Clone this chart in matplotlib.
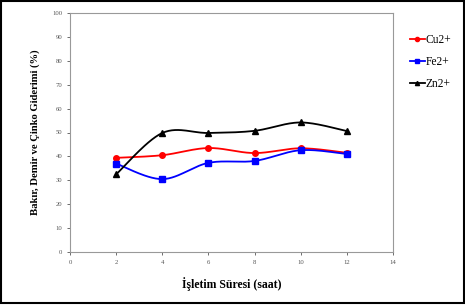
import numpy as np
import matplotlib.pyplot as plt
from matplotlib.patches import Rectangle

# Data
saat = [2, 4, 6, 8, 10, 12]
cu = [39.4, 40.5, 43.5, 41.4, 43.4, 41.5]
fe = [37.0, 30.5, 37.3, 38.1, 42.6, 41.0]
zn = [32.5, 49.8, 49.8, 50.7, 54.2, 50.6]


def smooth(x, y, n=30):
    # Catmull-Rom style smoothing, similar to spreadsheet "smoothed line"
    x = np.asarray(x, float)
    y = np.asarray(y, float)
    px = np.concatenate([[x[0]], x, [x[-1]]])
    py = np.concatenate([[y[0]], y, [y[-1]]])
    xs, ys = [], []
    for i in range(1, len(px) - 2):
        p0 = np.array([px[i - 1], py[i - 1]])
        p1 = np.array([px[i], py[i]])
        p2 = np.array([px[i + 1], py[i + 1]])
        p3 = np.array([px[i + 2], py[i + 2]])
        c1 = p1 + (p2 - p0) / 6
        c2 = p2 - (p3 - p1) / 6
        t = np.linspace(0, 1, n)[:, None]
        b = ((1 - t) ** 3) * p1 + 3 * ((1 - t) ** 2) * t * c1 + 3 * (1 - t) * t ** 2 * c2 + t ** 3 * p2
        xs.extend(b[:, 0])
        ys.extend(b[:, 1])
    return xs, ys


plt.rcParams['font.family'] = 'Liberation Serif'

fig = plt.figure(figsize=(4.65, 3.05), dpi=100)
ax = fig.add_axes([70 / 465, 53 / 305, 323 / 465, 239 / 305])

series = [("Cu2+", cu, "red", "o"), ("Fe2+", fe, "blue", "s"), ("Zn2+", zn, "black", "^")]
for name, vals, col, mk in series:
    sx, sy = smooth(saat, vals)
    ax.plot(sx, sy, color=col, lw=1.3)
    ax.plot(saat, vals, linestyle="none", marker=mk, color=col, ms=4)
    ax.plot([], [], color=col, marker=mk, ms=3, lw=1.3, label=name)

ax.set_xlim(0, 14)
ax.set_ylim(0, 100)
ax.set_xticks(range(0, 15, 2))
ax.set_yticks(range(0, 101, 10))
ax.tick_params(labelsize=4.8, colors="#555555", length=2, width=0.6)
for s in ax.spines.values():
    s.set_color("#999999")
    s.set_linewidth(0.8)

ax.set_xlabel("İşletim Süresi (saat)", fontsize=8.5, fontweight="bold", labelpad=9)
ax.set_ylabel("Bakır, Demir ve Çinko Giderimi (%)", fontsize=7.7, fontweight="bold", labelpad=9)

ax.legend(loc="upper left", bbox_to_anchor=(1.02, 0.955), frameon=False, fontsize=8.3,
          handlelength=1.3, handletextpad=0.1, labelspacing=0.85)

fig.patches.append(Rectangle((0.002, 0.008), 0.996, 0.99, transform=fig.transFigure,
                             fill=False, edgecolor="black", lw=1.5))

fig.savefig("out.png", dpi=100)
